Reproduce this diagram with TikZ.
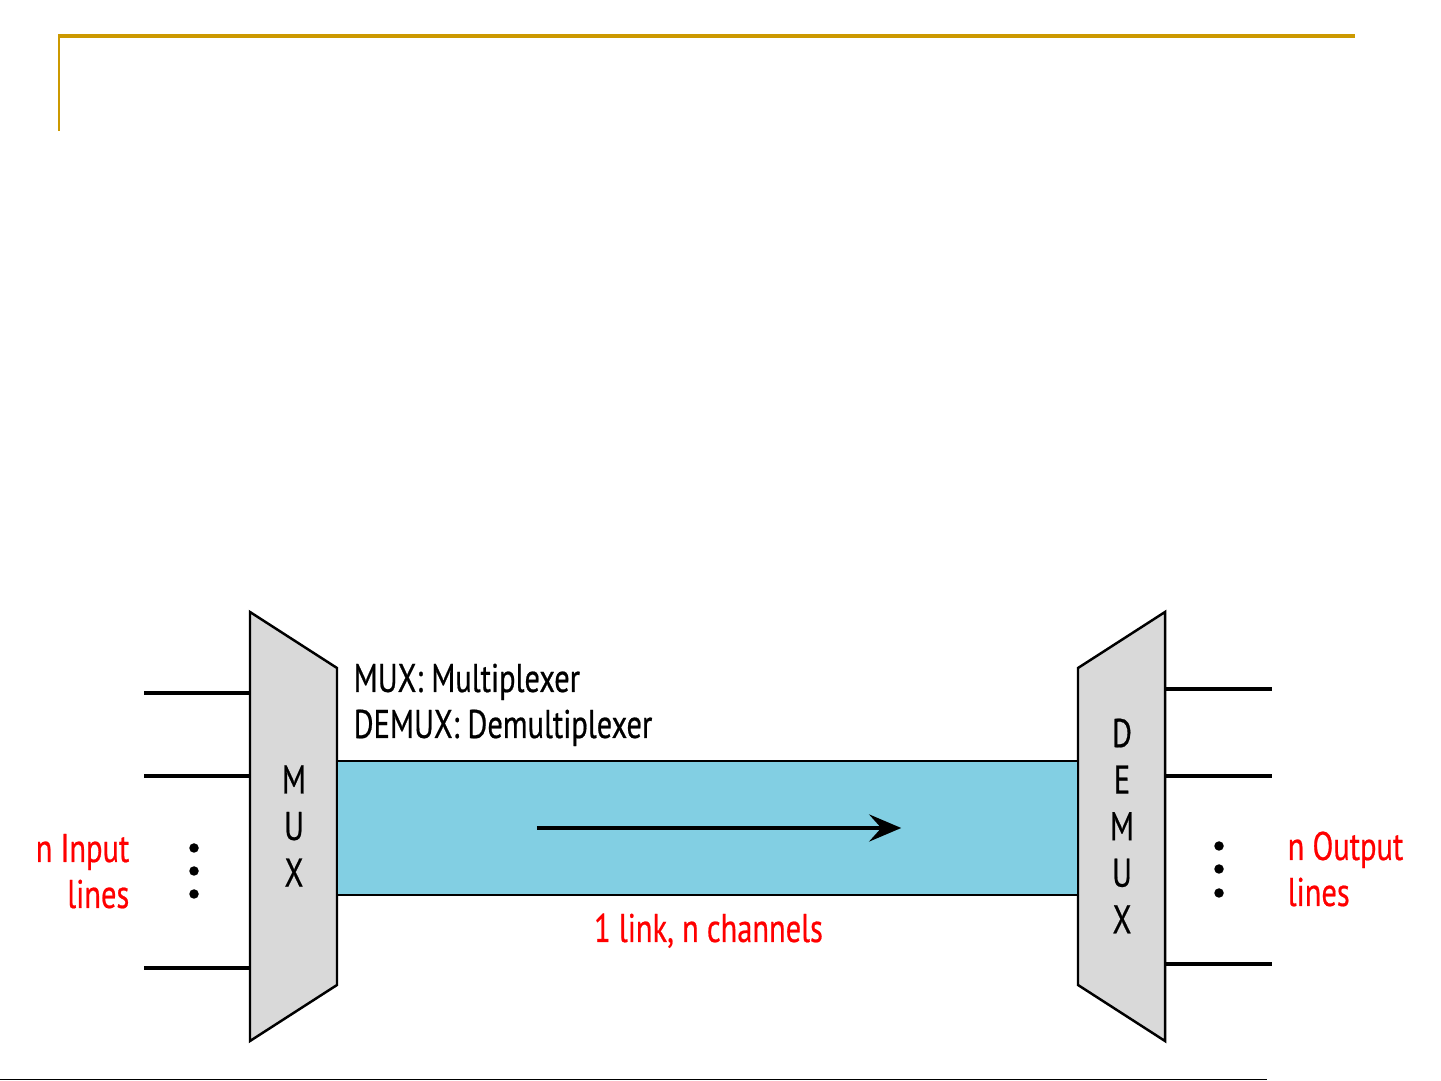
\documentclass[tikz,border=0pt]{standalone}
\usepackage{fontspec}
\setmainfont{PT Sans}[FakeStretch=0.76, FakeBold=0.5]
\usepackage{xcolor}
\usepackage{tikz}
\usetikzlibrary{calc, arrows.meta}

\definecolor{framegold}{RGB}{204,153,0}
\definecolor{linkblue}{RGB}{130,207,227}
\definecolor{boxgray}{RGB}{217,217,217}

\begin{document}
\begin{tikzpicture}[font=\fontsize{11.4}{13.2}\selectfont]

\tikzstyle{muxbox} = [draw=black, line width=0.7pt, fill=boxgray]
\tikzstyle{linkbox} = [rectangle, draw=black, line width=0.7pt, fill=linkblue, inner sep=0pt]
\tikzstyle{letters} = [align=center, inner sep=0pt, font=\fontsize{11.4}{13.25}\selectfont]
\tikzstyle{wire} = [line width=1.3pt]
\tikzstyle{flow} = [line width=1.35pt, -{Stealth[length=3.2mm, width=2.7mm, inset=1.2mm]}]
\tikzstyle{redlabel} = [text=red, inner sep=0pt]
\tikzstyle{dot} = [circle, fill=black, inner sep=0pt, minimum size=0.95mm]

\useasboundingbox (0,0) rectangle (14.41,-10.81);

% frame
\draw [framegold, line width=1.1pt] (0.58,-0.36) -- (13.55,-0.36);
\draw [framegold, line width=0.5pt] (0.59,-0.36) -- (0.59,-1.31);
\draw [black, line width=0.4pt] (0,-10.795) -- (12.67,-10.795);

% mux and demux
\draw [muxbox] (2.50,-6.12) -- (3.37,-6.68) -- (3.37,-9.85) -- (2.50,-10.41) -- cycle;
\draw [muxbox] (11.65,-6.12) -- (10.78,-6.68) -- (10.78,-9.85) -- (11.65,-10.41) -- cycle;
\node (mux) [letters] at (2.94,-8.26) {M\\U\\X};
\node (demux) [letters] at (11.22,-8.26) {D\\E\\M\\U\\X};
\coordinate (muxin) at (2.50,-8.26);
\coordinate (demuxout) at (11.65,-8.26);

% link
\node (link) [linkbox, minimum width=7.41cm, minimum height=1.34cm] at (7.075,-8.28) {};
\draw [flow] ([xshift=2.01cm]link.west) -- ([xshift=-1.78cm]link.east);

% input lines
\coordinate (in1) at (1.44,-6.93);
\coordinate (in2) at (1.44,-7.76);
\coordinate (in3) at (1.44,-9.68);
\draw [wire] (in1) -- (in1 -| muxin);
\draw [wire] (in2) -- (in2 -| muxin);
\draw [wire] (in3) -- (in3 -| muxin);

% output lines
\coordinate (out1) at (12.72,-6.89);
\coordinate (out2) at (12.72,-7.76);
\coordinate (out3) at (12.72,-9.64);
\draw [wire] (demuxout |- out1) -- (out1);
\draw [wire] (demuxout |- out2) -- (out2);
\draw [wire] (demuxout |- out3) -- (out3);

% dots
\node (d1) [dot] at (1.94,-8.48) {};
\node (d2) [dot] at (1.94,-8.71) {};
\node (d3) [dot] at (1.94,-8.94) {};
\node (e1) [dot] at (12.19,-8.46) {};
\node (e2) [dot] at (12.19,-8.69) {};
\node (e3) [dot] at (12.19,-8.93) {};

% labels
\node (mlab) [anchor=base west, inner sep=0pt] at (3.53,-6.92) {MUX: Multiplexer};
\node (dlab) [anchor=base west, inner sep=0pt] at (3.53,-7.38) {DEMUX: Demultiplexer};
\node (chan) [redlabel, anchor=base] at (7.085,-9.42) {1 link, n channels};
\node (inlab) [redlabel, anchor=base east] at (1.30,-8.62) {n Input};
\node (inlab2) [redlabel, anchor=base east] at (1.30,-9.08) {lines};
\node (outlab) [redlabel, anchor=base west] at (12.87,-8.60) {n Output};
\node (outlab2) [redlabel, anchor=base west] at (12.87,-9.06) {lines};
\end{tikzpicture}
\end{document}
